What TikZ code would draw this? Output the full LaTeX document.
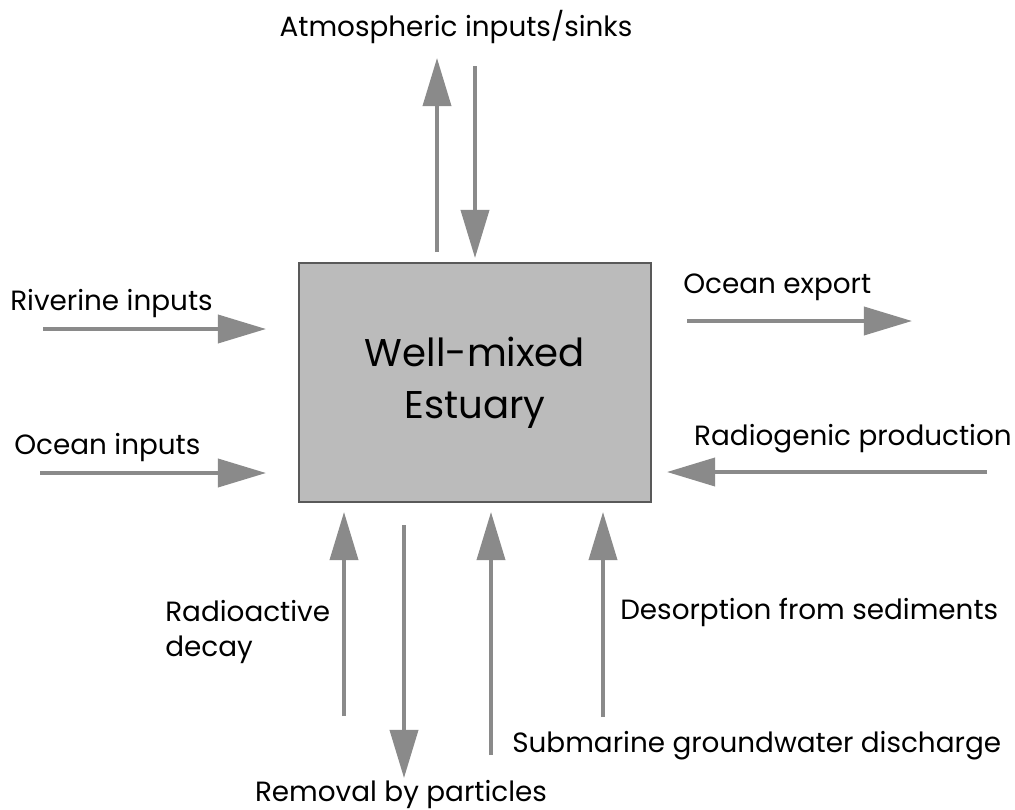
\documentclass[tikz,border=0pt]{standalone}
\usepackage{fontspec}
\setmainfont{Poppins}
\usepackage{tikz}
\usetikzlibrary{arrows.meta}
\definecolor{flux}{HTML}{8A8A8A}
\definecolor{boxfill}{HTML}{BBBBBB}

\begin{document}
\begin{tikzpicture}[x=0.025cm,y=-0.025cm,
    flow/.style={draw=flux,line width=2.6pt,-{Triangle[length=1.2cm,width=0.7cm]}},
    lbl/.style={inner sep=0pt,font=\fontsize{19.8}{25}\selectfont}]
      \useasboundingbox (0,0) rectangle (1015,810);
      \node[draw=black!65,line width=1.5pt,fill=boxfill,minimum width=352*0.025cm,minimum height=239*0.025cm,
        align=center,font=\fontsize{27.5}{37}\selectfont] (estuary) at (475,382.5) {Well-mixed\\Estuary};
      % top
      \node[lbl] (atmos) at (456,27) {Atmospheric inputs/sinks};
      \coordinate (atmosupa) at (437,252); \coordinate (atmosupb) at (437,58);
      \coordinate (atmosdna) at (475,66); \coordinate (atmosdnb) at (475,258);
      \draw[flow] (atmosupa) -- (atmosupb);
      \draw[flow] (atmosdna) -- (atmosdnb);
      % left
      \node[lbl,anchor=west] (river) at (10,304) {Riverine inputs};
      \coordinate (rivera) at (43,329); \coordinate (riverb) at (266,329);
      \draw[flow] (rivera) -- (riverb);
      \node[lbl,anchor=west] (oceanin) at (14,448) {Ocean inputs};
      \coordinate (oceanina) at (40,473); \coordinate (oceaninb) at (266,473);
      \draw[flow] (oceanina) -- (oceaninb);
      % right
      \node[lbl,anchor=west] (oceanout) at (683,287) {Ocean export};
      \coordinate (oceanouta) at (687,321); \coordinate (oceanoutb) at (912,321);
      \draw[flow] (oceanouta) -- (oceanoutb);
      \node[lbl,anchor=east] (radiogen) at (1012,439) {Radiogenic production};
      \coordinate (radiogena) at (987,472); \coordinate (radiogenb) at (667,472);
      \draw[flow] (radiogena) -- (radiogenb);
      % bottom
      \node[lbl,anchor=west,align=left] (decay) at (165,632) {Radioactive\\decay};
      \coordinate (decaya) at (344,716); \coordinate (decayb) at (344,512);
      \draw[flow] (decaya) -- (decayb);
      \node[lbl] (removal) at (401,795) {Removal by particles};
      \coordinate (removala) at (404,525); \coordinate (removalb) at (404,778);
      \draw[flow] (removala) -- (removalb);
      \node[lbl,anchor=west] (sgd) at (512,746) {Submarine groundwater discharge};
      \coordinate (sgda) at (491,755); \coordinate (sgdb) at (491,512);
      \draw[flow] (sgda) -- (sgdb);
      \node[lbl,anchor=west] (desorb) at (620,612) {Desorption from sediments};
      \coordinate (desorba) at (603,717); \coordinate (desorbb) at (603,512);
      \draw[flow] (desorba) -- (desorbb);
    \end{tikzpicture}
\end{document}
